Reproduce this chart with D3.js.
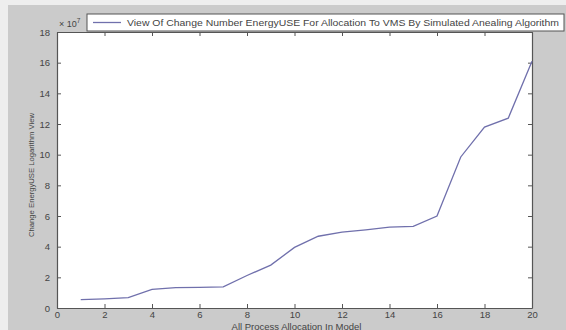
<!DOCTYPE html>
<html>
<head>
<meta charset="utf-8">
<script src="https://cdn.jsdelivr.net/npm/d3@7"></script>
<style>
  html, body { margin: 0; padding: 0; background: #eeeeee; }
  svg { display: block; font-family: Arial, "Liberation Sans", sans-serif; }
</style>
</head>
<body>
<svg id="chart" width="566" height="330"></svg>
<script>
// Energy use per allocation step (values in units of 1e7)
const allocations = [1, 2, 3, 4, 5, 6, 7, 8, 9, 10, 11, 12, 13, 14, 15, 16, 17, 18, 19, 20];
const energyUse = [0.55, 0.6, 0.67, 1.22, 1.33, 1.35, 1.38, 2.12, 2.8, 3.95, 4.68, 4.95, 5.1, 5.28, 5.32, 6.0, 9.85, 11.8, 12.38, 16.1];
const xTicks = [0, 2, 4, 6, 8, 10, 12, 14, 16, 18, 20];
const yTicks = [0, 2, 4, 6, 8, 10, 12, 14, 16, 18];
const legendLabel = "View Of Change Number EnergyUSE For Allocation To VMS By Simulated Anealing Algorithm";
const xTitle = "All Process Allocation In Model";
const yTitle = "Change EnergyUSE Logarithm View";

const svg = d3.select("#chart");
const W = 566, H = 330;
const plot = { left: 57, right: 532, top: 32, bottom: 308 };

// figure background
svg.append("rect").attr("x", 8).attr("y", 5).attr("width", W - 8).attr("height", H - 5)
  .attr("fill", "#cbcbcb");

const x = d3.scaleLinear().domain([0, 20]).range([plot.left, plot.right]);
const y = d3.scaleLinear().domain([0, 18]).range([plot.bottom, plot.top]);

// axes area
svg.append("rect")
  .attr("x", plot.left).attr("y", plot.top)
  .attr("width", plot.right - plot.left).attr("height", plot.bottom - plot.top)
  .attr("fill", "#ffffff");

const axisColor = "#555";
const textColor = "#444";

function styleAxis(g, showLabels) {
  g.select(".domain").attr("stroke", axisColor).attr("stroke-width", 1.2);
  g.selectAll(".tick line").attr("stroke", axisColor);
  g.selectAll(".tick text").attr("fill", textColor).style("font-size", "9.5px")
    .attr("display", showLabels ? null : "none");
}

// bottom and left axes with inward ticks
svg.append("g").attr("transform", `translate(0,${plot.bottom})`)
  .call(d3.axisBottom(x).tickValues(xTicks).tickSizeInner(-4).tickSizeOuter(0).tickPadding(3))
  .call(g => styleAxis(g, true));
svg.append("g").attr("transform", `translate(${plot.left},0)`)
  .call(d3.axisLeft(y).tickValues(yTicks).tickSizeInner(-4).tickSizeOuter(0).tickPadding(7))
  .call(g => styleAxis(g, true));
// top and right box sides
svg.append("g").attr("transform", `translate(0,${plot.top})`)
  .call(d3.axisTop(x).tickValues(xTicks).tickSizeInner(-4).tickSizeOuter(0))
  .call(g => styleAxis(g, false));
svg.append("g").attr("transform", `translate(${plot.right},0)`)
  .call(d3.axisRight(y).tickValues(yTicks).tickSizeInner(-4).tickSizeOuter(0))
  .call(g => styleAxis(g, false));

// exponent marker
const exp = svg.append("text").attr("x", plot.left + 2).attr("y", plot.top - 5)
  .attr("fill", textColor).style("font-size", "9px");
exp.append("tspan").text("\u00d7 10");
exp.append("tspan").attr("dy", -4).style("font-size", "6.5px").text("7");

// data line
const line = d3.line().x((d, i) => x(allocations[i])).y(d => y(d));
svg.append("path").datum(energyUse)
  .attr("d", line).attr("fill", "none")
  .attr("stroke", "#7070ac").attr("stroke-width", 1.3);

// axis titles
svg.append("text").attr("x", (plot.left + plot.right) / 2 + 2).attr("y", 329.5)
  .attr("text-anchor", "middle").attr("fill", textColor).style("font-size", "9.5px")
  .text(xTitle);
svg.append("text")
  .attr("transform", `translate(34,${(plot.top + plot.bottom) / 2 + 5}) rotate(-90)`)
  .attr("text-anchor", "middle").attr("fill", textColor).style("font-size", "8px")
  .attr("textLength", 124).attr("lengthAdjust", "spacingAndGlyphs")
  .text(yTitle);

// legend
const lg = svg.append("g");
lg.append("rect").attr("x", 87).attr("y", 14).attr("width", 477).attr("height", 17)
  .attr("fill", "#ffffff").attr("stroke", axisColor).attr("stroke-width", 1);
lg.append("line").attr("x1", 93).attr("x2", 121).attr("y1", 22.5).attr("y2", 22.5)
  .attr("stroke", "#7070ac").attr("stroke-width", 1.3);
lg.append("text").attr("x", 127).attr("y", 26).attr("fill", textColor)
  .style("font-size", "9.5px")
  .attr("textLength", 432).attr("lengthAdjust", "spacingAndGlyphs")
  .text(legendLabel);
</script>
</body>
</html>
